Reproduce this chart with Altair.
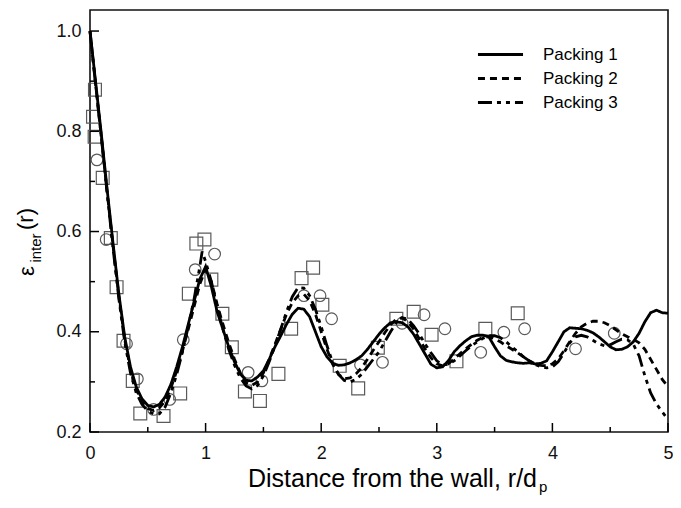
import altair as alt
import pandas as pd

FONT = "Liberation Sans"

# ---------------- data ----------------
series_names = ["Packing 1", "Packing 2", "Packing 3"]

r_p1 = [0.00, 0.05, 0.10, 0.15, 0.20, 0.25, 0.30, 0.35, 0.40, 0.45,
        0.50, 0.55, 0.60, 0.65, 0.70, 0.75, 0.80, 0.85, 0.90, 0.95,
        1.00, 1.05, 1.10, 1.15, 1.20, 1.25, 1.30, 1.35, 1.40, 1.45,
        1.50, 1.55, 1.60, 1.65, 1.70, 1.75, 1.80, 1.85, 1.90, 1.95,
        2.00, 2.05, 2.10, 2.15, 2.20, 2.25, 2.30, 2.35, 2.40, 2.45,
        2.50, 2.55, 2.60, 2.65, 2.70, 2.75, 2.80, 2.85, 2.90, 2.95,
        3.00, 3.05, 3.10, 3.15, 3.20, 3.25, 3.30, 3.35, 3.40, 3.45,
        3.50, 3.55, 3.60, 3.65, 3.70, 3.75, 3.80, 3.85, 3.90, 3.95,
        4.00, 4.05, 4.10, 4.15, 4.20, 4.25, 4.30, 4.35, 4.40, 4.45,
        4.50, 4.55, 4.60, 4.65, 4.70, 4.75, 4.80, 4.85, 4.90, 4.95, 5.00]
eps_p1 = [1.000, 0.895, 0.790, 0.680, 0.575, 0.475, 0.390, 0.330, 0.290, 0.266,
          0.253, 0.250, 0.255, 0.270, 0.295, 0.330, 0.370, 0.415, 0.460, 0.505,
          0.530, 0.490, 0.440, 0.405, 0.370, 0.340, 0.316, 0.303, 0.302, 0.310,
          0.322, 0.345, 0.370, 0.392, 0.415, 0.435, 0.447, 0.445, 0.430, 0.400,
          0.370, 0.350, 0.337, 0.333, 0.334, 0.338, 0.344, 0.352, 0.365, 0.380,
          0.395, 0.408, 0.418, 0.420, 0.418, 0.410, 0.395, 0.375, 0.355, 0.335,
          0.328, 0.330, 0.342, 0.360, 0.372, 0.382, 0.390, 0.393, 0.393, 0.390,
          0.370, 0.352, 0.343, 0.340, 0.338, 0.337, 0.338, 0.336, 0.337, 0.342,
          0.360, 0.380, 0.400, 0.408, 0.407, 0.406, 0.403, 0.398, 0.390, 0.380,
          0.370, 0.364, 0.365, 0.370, 0.380, 0.397, 0.420, 0.438, 0.443, 0.438, 0.437]

r_p2 = list(r_p1)
eps_p2 = [1.000, 0.890, 0.785, 0.675, 0.570, 0.470, 0.385, 0.325, 0.285, 0.260,
          0.247, 0.243, 0.248, 0.262, 0.288, 0.322, 0.362, 0.405, 0.450, 0.495,
          0.525, 0.500, 0.455, 0.415, 0.378, 0.345, 0.318, 0.298, 0.293, 0.300,
          0.318, 0.345, 0.375, 0.405, 0.435, 0.458, 0.472, 0.475, 0.462, 0.435,
          0.400, 0.365, 0.335, 0.315, 0.306, 0.308, 0.316, 0.328, 0.345, 0.363,
          0.380, 0.398, 0.414, 0.425, 0.428, 0.420, 0.405, 0.385, 0.365, 0.348,
          0.336, 0.332, 0.336, 0.346, 0.356, 0.366, 0.375, 0.383, 0.389, 0.390,
          0.386, 0.380, 0.372, 0.365, 0.358, 0.350, 0.342, 0.336, 0.333, 0.332,
          0.336, 0.346, 0.362, 0.380, 0.397, 0.410, 0.417, 0.421, 0.421, 0.418,
          0.412, 0.404, 0.396, 0.390, 0.385, 0.378, 0.365, 0.345, 0.325, 0.305, 0.290]

r_p3 = [0.00, 0.05, 0.10, 0.15, 0.20, 0.25, 0.30, 0.35, 0.40, 0.45,
        0.50, 0.55, 0.60, 0.65, 0.70, 0.75, 0.80, 0.85, 0.90, 0.95,
        0.97, 1.00, 1.05, 1.10, 1.15, 1.20, 1.25, 1.30, 1.35, 1.40, 1.45,
        1.50, 1.55, 1.60, 1.65, 1.70, 1.75, 1.80, 1.85, 1.90, 1.95,
        2.00, 2.05, 2.10, 2.15, 2.20, 2.25, 2.30, 2.35, 2.40, 2.45,
        2.50, 2.55, 2.60, 2.65, 2.70, 2.75, 2.80, 2.85, 2.90, 2.95,
        3.00, 3.05, 3.10, 3.15, 3.20, 3.25, 3.30, 3.35, 3.40, 3.45,
        3.50, 3.55, 3.60, 3.65, 3.70, 3.75, 3.80, 3.85, 3.90, 3.95,
        4.00, 4.05, 4.10, 4.15, 4.20, 4.25, 4.30, 4.35, 4.40, 4.45,
        4.50, 4.55, 4.60, 4.65, 4.70, 4.75, 4.80, 4.85, 4.90, 4.95, 5.00]
eps_p3 = [1.000, 0.890, 0.783, 0.672, 0.565, 0.465, 0.380, 0.318, 0.278, 0.255,
          0.242, 0.236, 0.236, 0.250, 0.278, 0.315, 0.360, 0.410, 0.465, 0.530,
          0.560, 0.540, 0.500, 0.450, 0.405, 0.365, 0.333, 0.308, 0.292, 0.286, 0.293,
          0.312, 0.340, 0.372, 0.405, 0.440, 0.470, 0.488, 0.487, 0.472, 0.445,
          0.410, 0.372, 0.338, 0.315, 0.303, 0.300, 0.305, 0.315, 0.330, 0.345,
          0.360, 0.380, 0.400, 0.418, 0.428, 0.425, 0.412, 0.395, 0.375, 0.358,
          0.342, 0.334, 0.335, 0.342, 0.352, 0.362, 0.372, 0.380, 0.387, 0.392,
          0.392, 0.388, 0.380, 0.370, 0.360, 0.350, 0.342, 0.335, 0.330, 0.328,
          0.330, 0.340, 0.358, 0.378, 0.390, 0.393, 0.390, 0.383, 0.376, 0.372,
          0.374, 0.380, 0.385, 0.384, 0.375, 0.352, 0.312, 0.278, 0.256, 0.240, 0.225]

sq_r = [0.026, 0.043, 0.040, 0.110, 0.180, 0.230, 0.290, 0.370, 0.435, 0.636,
        0.780, 0.855, 0.920, 0.990, 1.050, 1.145, 1.227, 1.340, 1.470, 1.630,
        1.740, 1.830, 1.930, 2.010, 2.160, 2.320, 2.490, 2.650, 2.800, 2.955,
        3.170, 3.420, 3.700]
sq_eps = [0.829, 0.883, 0.789, 0.707, 0.587, 0.489, 0.382, 0.302, 0.237, 0.232,
          0.277, 0.476, 0.576, 0.584, 0.504, 0.436, 0.369, 0.281, 0.262, 0.316,
          0.406, 0.507, 0.528, 0.454, 0.332, 0.287, 0.368, 0.426, 0.440, 0.394,
          0.341, 0.406, 0.437]

ci_r = [0.060, 0.140, 0.316, 0.410, 0.550, 0.690, 0.807, 0.910, 1.078, 1.368,
        1.487, 1.850, 1.990, 2.090, 2.340, 2.530, 2.700, 2.890, 3.070, 3.380,
        3.580, 3.760, 4.200, 4.535]
ci_eps = [0.743, 0.584, 0.376, 0.306, 0.245, 0.265, 0.384, 0.524, 0.555, 0.319,
          0.302, 0.472, 0.472, 0.426, 0.334, 0.339, 0.417, 0.434, 0.406, 0.359,
          0.399, 0.406, 0.366, 0.397]

x_major = [0, 1, 2, 3, 4, 5]
x_minor = [0.5, 1.5, 2.5, 3.5, 4.5]
y_major = [0.2, 0.4, 0.6, 0.8, 1.0]
y_minor = [0.3, 0.5, 0.7, 0.9]

# ---------------- chart ----------------
W, H = 578, 422
xs = alt.Scale(domain=[0, 5], nice=False, zero=False)
ys = alt.Scale(domain=[0.2, 1.042], nice=False, zero=False)
xaxis = alt.Axis(values=x_major, format="d", title=None, labelPadding=12,
                 labelFlush=False, labelOverlap=False, labelBound=False)
yaxis = alt.Axis(values=y_major, format=".1f", title=None, labelPadding=9,
                 labelOverlap=False)

lines_df = pd.concat([
    pd.DataFrame({"r": r_p1, "eps": eps_p1, "series": series_names[0]}),
    pd.DataFrame({"r": r_p2, "eps": eps_p2, "series": series_names[1]}),
    pd.DataFrame({"r": r_p3, "eps": eps_p3, "series": series_names[2]}),
])
sq_df = pd.DataFrame({"r": sq_r, "eps": sq_eps})
ci_df = pd.DataFrame({"r": ci_r, "eps": ci_eps})

squares = alt.Chart(sq_df).mark_point(
    shape="square", filled=False, size=165, color="#5a5a5a", strokeWidth=1.2, opacity=1
).encode(x=alt.X("r:Q", scale=xs, axis=xaxis), y=alt.Y("eps:Q", scale=ys, axis=yaxis))

circles = alt.Chart(ci_df).mark_point(
    shape="circle", filled=False, size=135, color="#5a5a5a", strokeWidth=1.2, opacity=1
).encode(x=alt.X("r:Q", scale=xs, axis=xaxis), y=alt.Y("eps:Q", scale=ys, axis=yaxis))

lines = alt.Chart(lines_df).mark_line(color="black", strokeWidth=2.8).encode(
    x=alt.X("r:Q", scale=xs, axis=xaxis),
    y=alt.Y("eps:Q", scale=ys, axis=yaxis),
    strokeDash=alt.StrokeDash(
        "series:N",
        scale=alt.Scale(domain=series_names, range=[[1, 0], [7, 5], [14, 5, 4, 5, 4, 5]]),
        legend=alt.Legend(
            title=None, orient="none", legendX=402, legendY=36, direction="vertical",
            symbolType="M-4,0H4", symbolSize=127, symbolStrokeWidth=3,
            symbolStrokeColor="black", labelFontSize=17, labelFont=FONT,
            labelColor="black", labelOffset=34, rowPadding=6, padding=0,
        ),
    ),
)

xmaj_df = pd.DataFrame({"r": x_major})
xmin_df = pd.DataFrame({"r": x_minor})
ymaj_df = pd.DataFrame({"eps": y_major})
ymin_df = pd.DataFrame({"eps": y_minor})

tick_style = dict(color="black", strokeWidth=1.5)
xt_major = alt.Chart(xmaj_df).mark_rule(**tick_style).encode(
    x=alt.X("r:Q", scale=xs, axis=xaxis), y=alt.value(H), y2=alt.value(H - 9))
xt_minor = alt.Chart(xmin_df).mark_rule(**tick_style).encode(
    x=alt.X("r:Q", scale=xs, axis=xaxis), y=alt.value(H), y2=alt.value(H - 5))
yt_major = alt.Chart(ymaj_df).mark_rule(**tick_style).encode(
    y=alt.Y("eps:Q", scale=ys, axis=yaxis), x=alt.value(0), x2=alt.value(9))
yt_minor = alt.Chart(ymin_df).mark_rule(**tick_style).encode(
    y=alt.Y("eps:Q", scale=ys, axis=yaxis), x=alt.value(0), x2=alt.value(5))

one = pd.DataFrame({"k": [0]})


def label(text, x, y, size, angle=0, align="center", baseline="middle"):
    return alt.Chart(one).mark_text(
        text=text, font=FONT, fontSize=size, color="black", angle=angle,
        align=align, baseline=baseline,
    ).encode(x=alt.value(x), y=alt.value(y))


xtitle = label("Distance from the wall, r/d", 447, 477, 25, align="right", baseline="alphabetic")
xsub = label("p", 449, 482, 15, align="left", baseline="alphabetic")
yt_eps = label("ε", -63, 261, 22, angle=270)
yt_sub = label("inter", -54, 238, 15, angle=270)
yt_r = label("(r)", -64, 209, 22, angle=270)

chart = alt.layer(
    squares, circles, lines, xt_major, xt_minor, yt_major, yt_minor,
    xtitle, xsub, yt_eps, yt_sub, yt_r,
).properties(
    width=W, height=H,
    padding={"left": 82, "top": 2, "right": 5, "bottom": 64},
    autosize=alt.AutoSizeParams(type="none"),
).configure_view(
    stroke="#111", strokeWidth=1.6,
).configure_axis(
    domain=False, ticks=False, grid=False, labelFont=FONT, labelFontSize=18,
    labelColor="#111",
)

chart.save("out.html", embed_options={"renderer": "svg", "actions": False})
